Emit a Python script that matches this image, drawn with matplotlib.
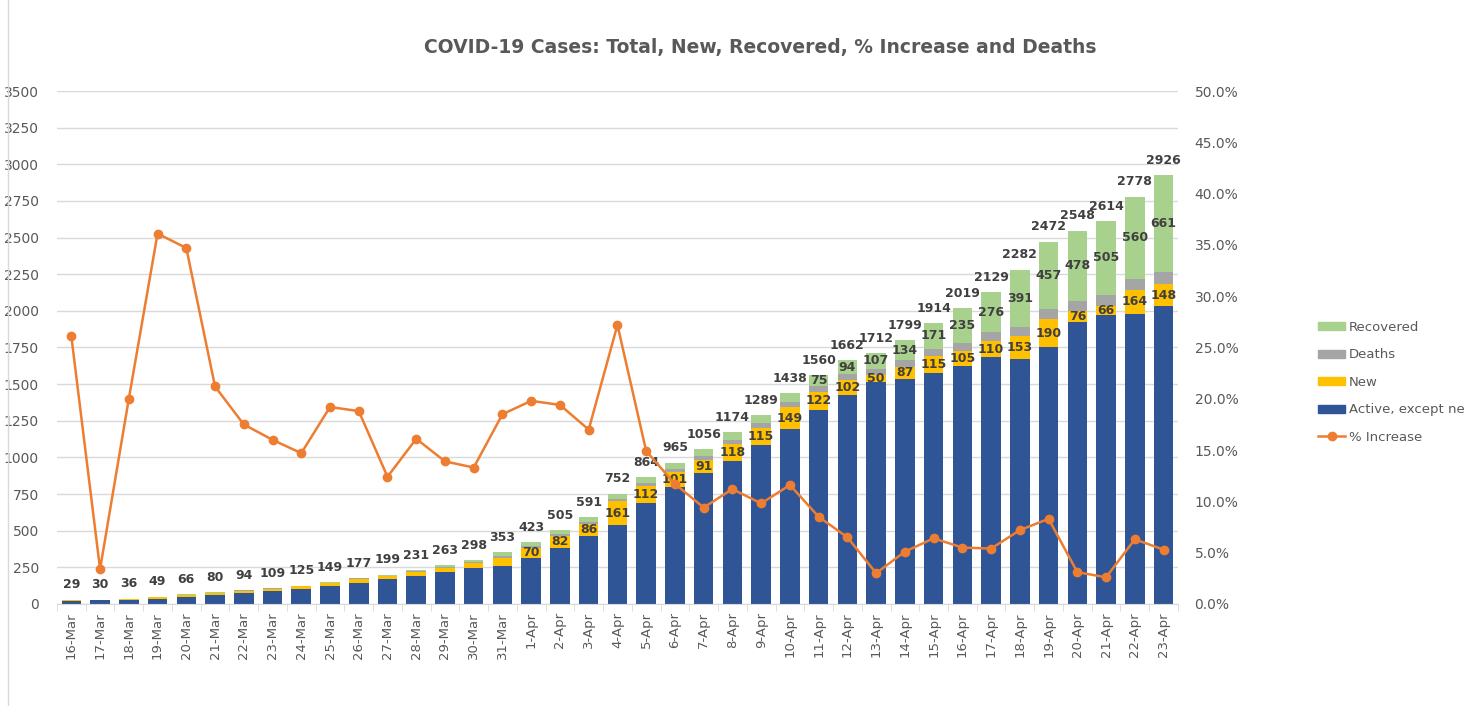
import numpy as np
import matplotlib.pyplot as plt
from matplotlib.patches import Patch
from matplotlib.lines import Line2D
from matplotlib.ticker import FuncFormatter, MultipleLocator

# дати
dates = ["16-Mar", "17-Mar", "18-Mar", "19-Mar", "20-Mar", "21-Mar", "22-Mar", "23-Mar",
         "24-Mar", "25-Mar", "26-Mar", "27-Mar", "28-Mar", "29-Mar", "30-Mar", "31-Mar",
         "1-Apr", "2-Apr", "3-Apr", "4-Apr", "5-Apr", "6-Apr", "7-Apr", "8-Apr", "9-Apr",
         "10-Apr", "11-Apr", "12-Apr", "13-Apr", "14-Apr", "15-Apr", "16-Apr", "17-Apr",
         "18-Apr", "19-Apr", "20-Apr", "21-Apr", "22-Apr", "23-Apr"]

total = [29, 30, 36, 49, 66, 80, 94, 109, 125, 149, 177, 199, 231, 263, 298, 353,
         423, 505, 591, 752, 864, 965, 1056, 1174, 1289, 1438, 1560, 1662, 1712, 1799,
         1914, 2019, 2129, 2282, 2472, 2548, 2614, 2778, 2926]
new = [6, 1, 6, 13, 17, 14, 14, 15, 16, 24, 28, 22, 32, 32, 35, 55,
       70, 82, 86, 161, 112, 101, 91, 118, 115, 149, 122, 102, 50, 87,
       115, 105, 110, 153, 190, 76, 66, 164, 148]
deaths = [0, 0, 0, 0, 1, 1, 1, 1, 1, 2, 2, 3, 3, 4, 5, 8,
          10, 12, 14, 17, 20, 22, 24, 28, 32, 35, 38, 40, 42, 45,
          50, 55, 60, 65, 72, 72, 73, 75, 84]
recovered = [1, 0, 2, 4, 3, 3, 2, 3, 3, 3, 3, 6, 7, 11, 10, 28,
             28, 29, 29, 34, 40, 42, 47, 53, 57, 60, 75, 94, 107, 134,
             171, 235, 276, 391, 457, 478, 505, 560, 661]
active = [22, 29, 28, 32, 45, 62, 77, 90, 105, 120, 144, 168, 189, 216, 248, 262,
          315, 382, 462, 540, 692, 800, 894, 975, 1085, 1194, 1325, 1426, 1513, 1533,
          1578, 1624, 1683, 1673, 1753, 1922, 1970, 1979, 2033]
pct = [26.1, 3.4, 20.0, 36.1, 34.7, 21.2, 17.5, 16.0, 14.7, 19.2, 18.8, 12.4, 16.1,
       13.9, 13.3, 18.5, 19.8, 19.4, 17.0, 27.2, 14.9, 11.7, 9.4, 11.2, 9.8, 11.6,
       8.5, 6.5, 3.0, 5.1, 6.4, 5.5, 5.4, 7.2, 8.3, 3.1, 2.6, 6.3, 5.3]

c_blue, c_yellow, c_gray, c_green = "#2F5597", "#FFC000", "#A5A5A5", "#A9D18E"
c_orange = "#ED7D31"
c_text = "#595959"
c_lab = "#404040"

fig = plt.figure(figsize=(14.64, 7.06), dpi=100)
ax = fig.add_axes([0.0389, 0.1445, 0.7657, 0.7266])
ax2 = ax.twinx()

x = np.arange(len(dates))
w = 0.68
b1 = np.array(active)
b2 = b1 + np.array(new)
b3 = b2 + np.array(deaths)
ax.bar(x, active, w, color=c_blue, zorder=2)
ax.bar(x, new, w, bottom=b1, color=c_yellow, zorder=2)
ax.bar(x, deaths, w, bottom=b2, color=c_gray, zorder=2)
ax.bar(x, recovered, w, bottom=b3, color=c_green, zorder=2)

# підписи
for i in range(len(dates)):
    ax.annotate(str(total[i]), (x[i], total[i]), xytext=(0, 6), textcoords="offset points",
                ha="center", va="bottom", fontsize=9, fontweight="bold", color=c_lab, zorder=5)
    if i >= 16:
        ax.text(x[i], b1[i] + new[i] / 2, str(new[i]), ha="center", va="center",
                fontsize=9, fontweight="bold", color=c_lab, zorder=5)
    if i >= 26:
        ax.text(x[i], b3[i] + recovered[i] / 2, str(recovered[i]), ha="center", va="center",
                fontsize=9, fontweight="bold", color=c_lab, zorder=5)

ax2.plot(x, pct, color=c_orange, lw=1.8, marker="o", ms=6, zorder=4)

ax.set_xlim(-0.5, len(dates) - 0.5)
ax.set_ylim(0, 3500)
ax2.set_ylim(0, 50)
ax.yaxis.set_major_locator(MultipleLocator(250))
ax2.yaxis.set_major_locator(MultipleLocator(5))
ax2.yaxis.set_major_formatter(FuncFormatter(lambda v, p: f"{v:.1f}%"))
ax.grid(axis="y", color="#D9D9D9", lw=1, zorder=0)
ax.set_axisbelow(True)

ax.set_xticks(x)
ax.set_xticklabels(dates, rotation=90, fontsize=9.5, color=c_text)
ax.set_xticks(np.arange(-0.5, len(dates)), minor=True)
ax.tick_params(axis="x", which="major", length=0, pad=6)
ax.tick_params(axis="x", which="minor", length=5, color="#D9D9D9")
ax.tick_params(axis="y", length=0, labelsize=10, labelcolor=c_text, pad=13)
ax2.tick_params(axis="y", length=0, labelsize=10, labelcolor=c_text, pad=12)
for a in (ax, ax2):
    for s in a.spines.values():
        s.set_visible(False)
ax.spines["bottom"].set_visible(True)
ax.spines["bottom"].set_color("#D9D9D9")

fig.text(0.519, 0.933, "COVID-19 Cases: Total, New, Recovered, % Increase and Deaths",
         ha="center", va="center", fontsize=13.5, fontweight="bold", color=c_text)

handles = [Patch(color=c_green), Patch(color=c_gray), Patch(color=c_yellow), Patch(color=c_blue),
           Line2D([], [], color=c_orange, lw=1.8, marker="o", ms=6)]
labels = ["Recovered", "Deaths", "New", "Active, except new", "% Increase"]
fig.legend(handles, labels, loc="upper left", bbox_to_anchor=(0.897, 0.553), frameon=False,
           fontsize=9.5, labelcolor=c_text, handlelength=2.0, handleheight=0.6,
           handletextpad=0.3, labelspacing=1.1, borderaxespad=0)

fig.add_artist(Line2D([0.0055, 0.0055], [0, 1], color="#D9D9D9", lw=1))

fig.savefig("out.png", dpi=100)
